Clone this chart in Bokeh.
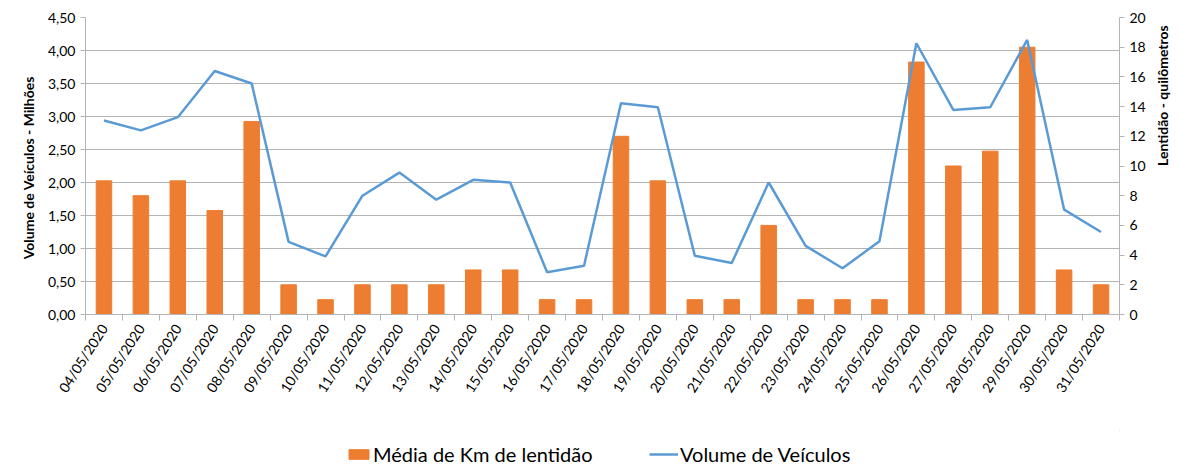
import math
from bokeh.plotting import figure
from bokeh.layouts import column
from bokeh.models import (LinearAxis, Range1d, FixedTicker, CustomJSTickFormatter,
                          Legend, LegendItem)
from bokeh.embed import file_html
from bokeh.resources import INLINE

datas = ['04/05/2020', '05/05/2020', '06/05/2020', '07/05/2020', '08/05/2020',
         '09/05/2020', '10/05/2020', '11/05/2020', '12/05/2020', '13/05/2020',
         '14/05/2020', '15/05/2020', '16/05/2020', '17/05/2020', '18/05/2020',
         '19/05/2020', '20/05/2020', '21/05/2020', '22/05/2020', '23/05/2020',
         '24/05/2020', '25/05/2020', '26/05/2020', '27/05/2020', '28/05/2020',
         '29/05/2020', '30/05/2020', '31/05/2020']
# media de km de lentidao (eixo direito)
km_lentidao = [9, 8, 9, 7, 13, 2, 1, 2, 2, 2, 3, 3, 1, 1, 12, 9, 1, 1, 6, 1, 1, 1,
               17, 10, 11, 18, 3, 2]
# volume de veiculos em milhoes (eixo esquerdo)
volume = [2.94, 2.79, 2.99, 3.69, 3.50, 1.10, 0.88, 1.80, 2.15, 1.74, 2.04, 2.00,
          0.64, 0.74, 3.20, 3.14, 0.89, 0.78, 2.00, 1.04, 0.70, 1.11, 4.11, 3.10,
          3.14, 4.16, 1.59, 1.25]

FONT = "Lato"
GRID = "#b4b4b4"
LARANJA = "#ED7D31"
AZUL = "#5B9BD5"
xs = list(range(len(datas)))

p = figure(width=1182, height=430, output_backend="svg", toolbar_location=None,
           x_range=Range1d(-0.5, len(datas) - 0.5), y_range=Range1d(0, 4.5),
           min_border_left=85, min_border_right=61, min_border_top=17,
           min_border_bottom=116, outline_line_color=None)

p.extra_y_ranges = {"km": Range1d(0, 20)}

bars = p.vbar(x=xs, top=km_lentidao, width=0.42, color=LARANJA, y_range_name="km")
linha = p.line(xs, volume, color=AZUL, line_width=2.5)

# eixo x: rotulos no centro, tracinhos entre as categorias
p.xaxis.ticker = FixedTicker(ticks=xs, minor_ticks=[i - 0.5 for i in range(len(datas) + 1)])
p.xaxis.major_label_overrides = {i: d for i, d in enumerate(datas)}
p.xaxis.major_label_orientation = 1.0
p.xaxis.major_tick_line_color = None
p.xaxis.minor_tick_in = 0
p.xaxis.minor_tick_out = 6
p.xaxis.minor_tick_line_color = GRID
p.xaxis.axis_line_color = GRID
p.xaxis.major_label_text_font = FONT
p.xaxis.major_label_text_font_size = "14px"
p.xaxis.major_label_text_color = "#000000"
p.xgrid.grid_line_color = None

p.yaxis.ticker = FixedTicker(ticks=[i * 0.5 for i in range(10)])
p.yaxis.formatter = CustomJSTickFormatter(code="return tick.toFixed(2).replace('.', ',');")
p.yaxis.axis_label = "Volume de Veículos  - Milhões"
p.ygrid.grid_line_color = GRID
p.ygrid.ticker = FixedTicker(ticks=[i * 0.5 for i in range(1, 10)])

ax_km = LinearAxis(y_range_name="km", axis_label="Lentidão - quilômetros",
                   ticker=FixedTicker(ticks=list(range(0, 21, 2))))
p.add_layout(ax_km, "right")

for ax in [p.yaxis[0], ax_km]:
    ax.major_label_text_font = FONT
    ax.major_label_text_font_size = "14px"
    ax.major_label_text_color = "#000000"
    ax.axis_label_text_font = FONT
    ax.axis_label_text_font_size = "14px"
    ax.axis_label_text_font_style = "bold"
    ax.axis_label_text_color = "#000000"
    ax.axis_line_color = GRID
    ax.major_tick_line_color = GRID
    ax.major_tick_in = 0
    ax.major_tick_out = 5
    ax.minor_tick_line_color = None
    ax.axis_label_standoff = 8
ax_km.axis_label_standoff = 14
ax_km.axis_label_orientation = math.pi / 2

# legenda numa faixa separada embaixo (o quadro fica alinhado com o de cima)
lg = figure(width=1182, height=36, output_backend="svg", toolbar_location=None,
            x_axis_type=None, y_axis_type=None, outline_line_color=None,
            min_border=0, x_range=Range1d(0, 1), y_range=Range1d(0, 1))
lg.grid.grid_line_color = None
r_bar = lg.vbar(x=[5], top=[5], bottom=[4], width=0.4, color=LARANJA)
r_lin = lg.line(x=[5, 6], y=[5, 5], color=AZUL, line_width=2.5)

for item, renderer, x0, gw in [("Média de Km de lentidão", r_bar, 261, 25),
                                ("Volume de Veículos", r_lin, 564, 29)]:
    leg = Legend(items=[LegendItem(label=item, renderers=[renderer])],
                 location=(x0, 0), border_line_color=None, background_fill_alpha=0,
                 label_text_font=FONT, label_text_font_size="20px",
                 label_text_color="#000000", glyph_width=gw, glyph_height=12,
                 label_standoff=2, padding=0, margin=0)
    lg.add_layout(leg, "center")

open("out.html", "w").write(file_html(column(p, lg), INLINE))
